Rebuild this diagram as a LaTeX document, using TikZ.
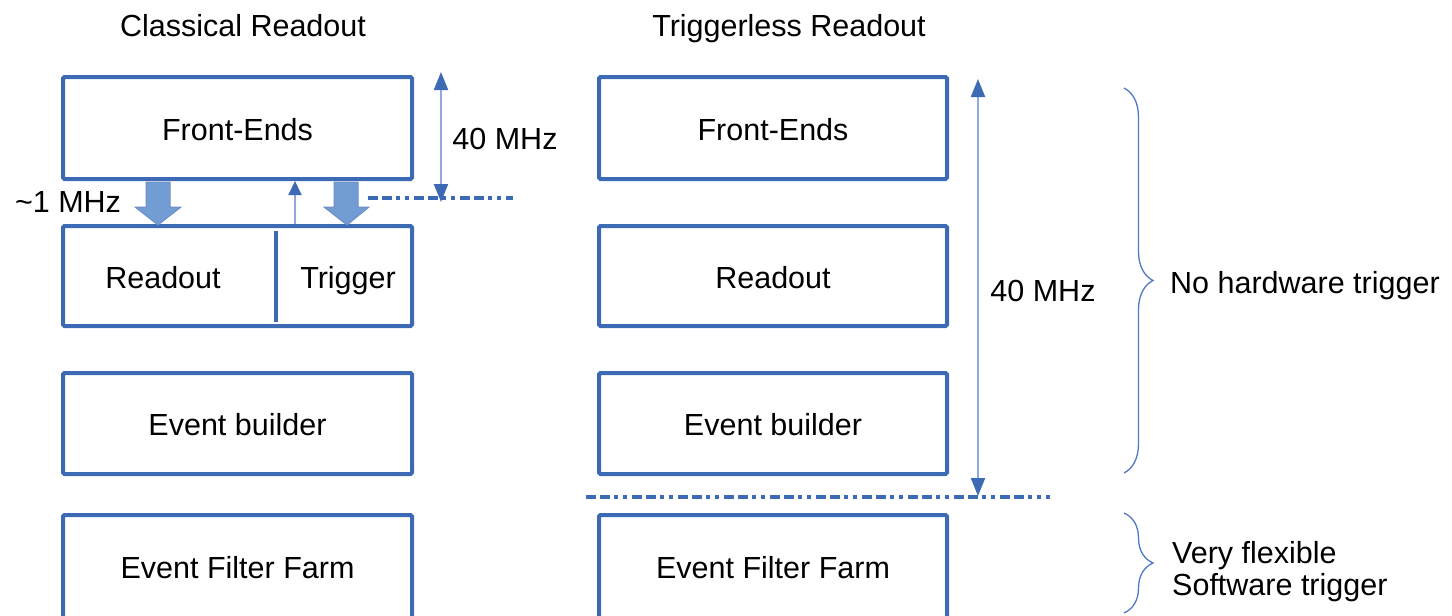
\documentclass[tikz,border=0pt]{standalone}
\usepackage{fontspec}
\setmainfont{Liberation Sans}
\usetikzlibrary{arrows.meta,decorations.pathreplacing}
\definecolor{boxblue}{RGB}{60,106,180}
\definecolor{lightblue}{RGB}{143,170,220}
\definecolor{fatfill}{RGB}{114,156,212}
\definecolor{bracecol}{RGB}{80,120,195}
\tikzset{
  txt/.style={font=\fontsize{30.5}{36}\selectfont, text height=21.8pt, text depth=0pt, inner sep=0pt},
  box/.style={draw=boxblue, line width=4pt, rounded corners=1.5pt, minimum width=349pt, inner sep=0pt, txt},
  fatarrow/.style={fill=fatfill, draw=boxblue!75, line width=1pt, line join=miter},
  thinarrow/.style={draw=lightblue, line width=2pt, -{Triangle[width=13pt,length=14pt,color=boxblue]}},
  dblarrow/.style={draw=lightblue, line width=2pt, {Triangle[width=14pt,length=18pt,color=boxblue]}-{Triangle[width=14pt,length=18pt,color=boxblue]}},
  dashdot/.style={draw=boxblue, line width=4pt, dash pattern=on 10pt off 4pt on 10pt off 4pt on 4pt off 5pt on 4pt off 5pt},
  bracestyle/.style={draw=bracecol, line width=1.3pt, decorate, decoration={brace, amplitude=29pt}},
}
\begin{document}
\begin{tikzpicture}[x=1pt,y=-1pt]
\useasboundingbox (0,0) rectangle (1452,616);
\clip (0,0) rectangle (1452,616);
% titles
\node[txt] (t1) at (243,25.5) {Classical Readout};
\node[txt] (t2) at (789,25.5) {Triggerless Readout};
% left column
\node[box, minimum height=102pt] (lfe) at (237.5,128) {\raisebox{-2pt}{Front-Ends}};
\node[box, minimum height=100pt] (lrt) at (237.5,276) {};
\node[txt] (lro) at (163,277.5) {Readout};
\node[txt] (ltr) at (348,277.5) {Trigger};
\coordinate (dvt) at (276,231);
\coordinate (dvb) at (276,322);
\draw[draw=boxblue, line width=4pt] (dvt) -- (dvb);
\node[box, minimum height=101pt] (leb) at (237.5,423.5) {\raisebox{-1.5pt}{Event builder}};
\node[box, minimum height=108pt] (lef) at (237.5,569) {\raisebox{1.5pt}{Event Filter Farm}};
% right column
\node[box, minimum width=348pt, minimum height=102pt] (rfe) at (773,128) {\raisebox{-2pt}{Front-Ends}};
\node[box, minimum width=348pt, minimum height=100pt] (rro) at (773,276) {\raisebox{-1.5pt}{Readout}};
\node[box, minimum width=348pt, minimum height=101pt] (reb) at (773,423.5) {\raisebox{-1.5pt}{Event builder}};
\node[box, minimum width=348pt, minimum height=108pt] (ref) at (773,569) {\raisebox{1.5pt}{Event Filter Farm}};
% fat arrows
\draw[fatarrow] (146,182) -- (170,182) -- (170,207) -- (181,207) -- (158,225) -- (135,207) -- (146,207) -- cycle;
\draw[fatarrow] (334,182) -- (358,182) -- (358,207) -- (369,207) -- (347,225) -- (324,207) -- (334,207) -- cycle;
% thin trigger arrow
\coordinate (tx) at (295,0);
\draw[thinarrow] (lrt.north -| tx) -- (lfe.south -| tx);
\node[txt] (f1) at (68,202) {\textasciitilde1 MHz};
% left 40 MHz
\coordinate (la) at (441,72);
\coordinate (lb) at (441,202);
\draw[dblarrow] (la) -- (lb);
\node[txt] (f2) at (505,139) {40 MHz};
\coordinate (d1) at (368,198);
\coordinate (d2) at (513,198);
\draw[dashdot] (d1) -- (d2);
% right 40 MHz
\coordinate (ra) at (978,79);
\coordinate (rb) at (978,496);
\draw[dblarrow] (ra) -- (rb);
\node[txt] (f3) at (1043,291) {40 MHz};
\coordinate (d3) at (586,497);
\coordinate (d4) at (1050,497);
\draw[dashdot] (d3) -- (d4);
% braces
\coordinate (b1) at (1124,88);
\coordinate (b2) at (1124,473);
\draw[bracestyle] (b1) -- (b2);
\coordinate (b3) at (1124,513);
\coordinate (b4) at (1124,613);
\draw[bracestyle] (b3) -- (b4);
\node[txt, anchor=west] (n1) at (1170,283) {No hardware trigger};
\node[txt, anchor=west] (n2) at (1172,553) {Very flexible};
\node[txt, anchor=west] (n3) at (1172,585) {Software trigger};
\end{tikzpicture}
\end{document}
